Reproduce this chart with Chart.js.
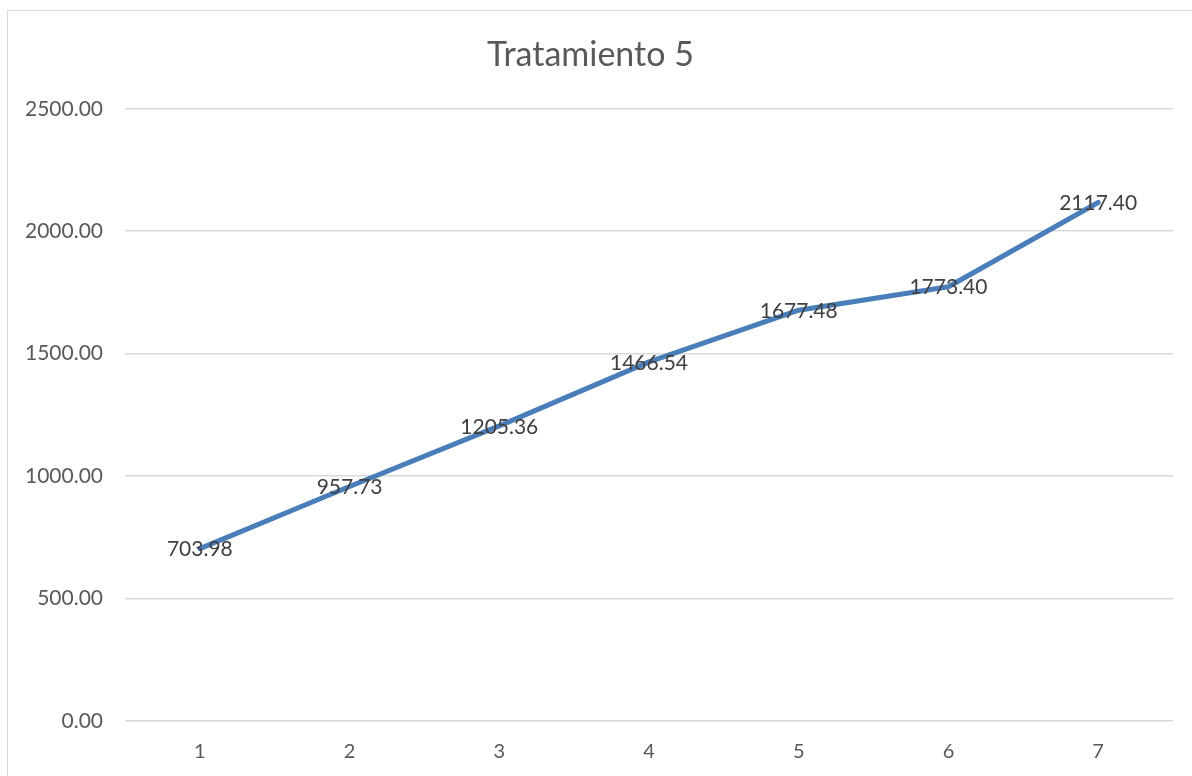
<!DOCTYPE html>
<html>
<head>
<meta charset="utf-8">
<title>Tratamiento 5</title>
<script src="https://cdn.jsdelivr.net/npm/chart.js@4.4.1/dist/chart.umd.min.js"></script>
<style>
  html, body { margin: 0; padding: 0; background: #fff; overflow: hidden; }
  #caja {
    position: absolute;
    left: 7px; top: 10px;
    width: 1184px; height: 766px;
    border-left: 1px solid #d9d9d9;
    border-top: 1px solid #d9d9d9;
  }
</style>
</head>
<body>
<div id="caja"><canvas id="grafico-tratamiento"></canvas></div>
<script>
// periodos y valores medidos del tratamiento 5
var periodos = ['1', '2', '3', '4', '5', '6', '7'];
var valores = [703.98, 957.73, 1205.36, 1466.54, 1677.48, 1773.40, 2117.40];
var titulo = 'Tratamiento 5';

// escribe el valor encima de cada punto de la linea
var etiquetasValor = {
	id: 'etiquetasValor',
	afterDatasetsDraw: function(chart) {
		var ctx = chart.ctx;
		var meta = chart.getDatasetMeta(0);
		ctx.save();
		ctx.font = '21px Lato, "Open Sans", sans-serif';
		ctx.fillStyle = '#404040';
		ctx.textAlign = 'center';
		ctx.textBaseline = 'middle';
		meta.data.forEach(function(punto, i) {
			ctx.fillText(valores[i].toFixed(2), punto.x, punto.y + 1);
		});
		ctx.restore();
	}
};

var ctx = document.getElementById('grafico-tratamiento');

var datos = {
	labels: periodos,
	datasets: [
	{
		label: titulo,
		fill: false,
		borderColor: '#4a7ebb',
		backgroundColor: '#4a7ebb',
		borderWidth: 5,
		borderCapStyle: 'round',
		borderJoinStyle: 'round',
		tension: 0,
		pointRadius: 0,
		pointHoverRadius: 0,
		data: valores
	}
	]
};

var opciones = {
	responsive: true,
	maintainAspectRatio: false,
	animation: false,
	layout: { padding: { left: 0, right: 19, top: 0, bottom: 0 } },
	plugins: {
		legend: { display: false },
		tooltip: { enabled: false },
		title: {
			display: true,
			text: titulo,
			color: '#595959',
			font: { family: 'Lato, "Open Sans", sans-serif', size: 34, weight: 'normal' },
			padding: { top: 24, bottom: 33 }
		}
	},
	scales: {
		x: {
			offset: true,
			grid: { display: false, drawTicks: false },
			border: { display: false },
			ticks: {
				color: '#595959',
				font: { family: 'Lato, "Open Sans", sans-serif', size: 20 },
				padding: 19
			},
			afterFit: function(scale) { scale.height = 56; }
		},
		y: {
			min: 0,
			max: 2500,
			grid: { color: '#d9d9d9', lineWidth: 1.5, drawTicks: false },
			border: { display: false },
			ticks: {
				stepSize: 500,
				color: '#595959',
				font: { family: 'Lato, "Open Sans", sans-serif', size: 21 },
				padding: 22,
				callback: function(v) { return Number(v).toFixed(2); }
			},
			afterFit: function(scale) { scale.width = 117; }
		}
	}
};

var graficoTratamiento = new Chart(ctx, {
	type: 'line',
	data: datos,
	options: opciones,
	plugins: [etiquetasValor]
});
</script>
</body>
</html>
